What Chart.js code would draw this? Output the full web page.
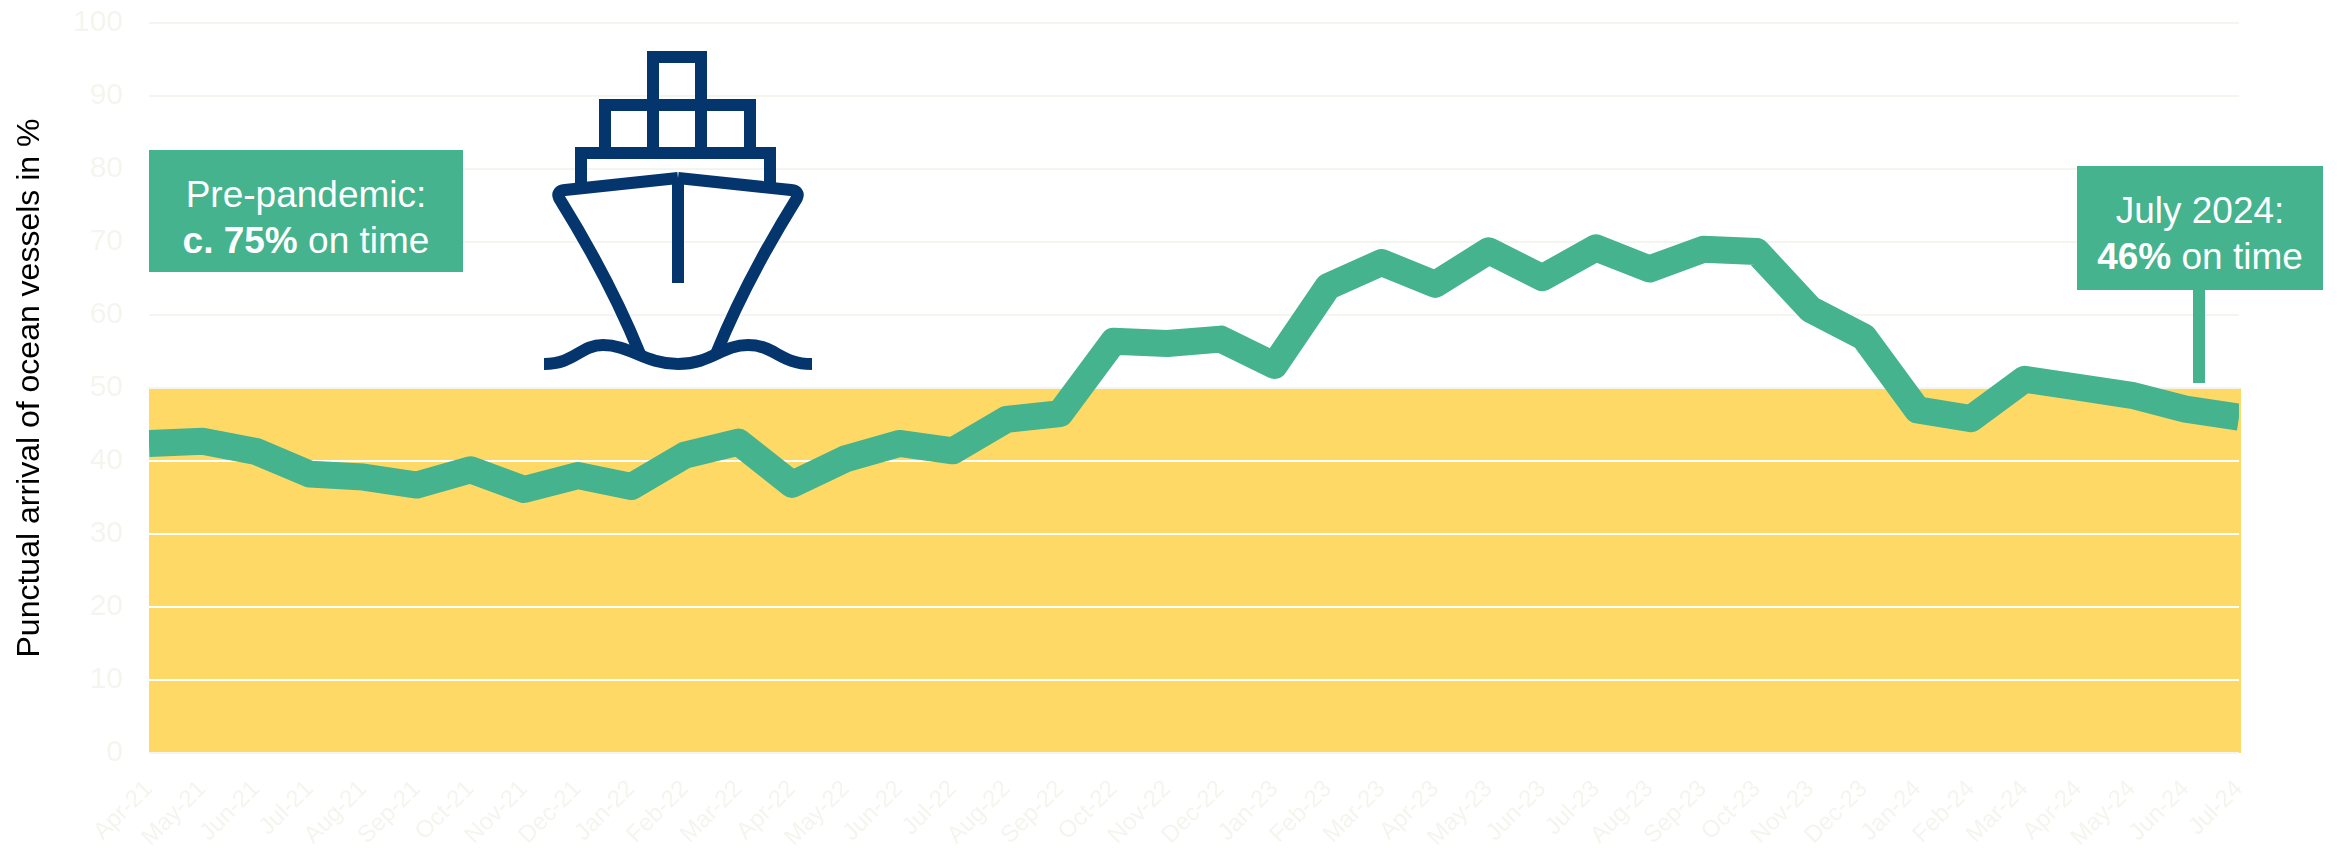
<!DOCTYPE html>
<html>
<head>
<meta charset="utf-8">
<title>Punctual arrival of ocean vessels</title>
<script src="https://cdn.jsdelivr.net/npm/chart.js@4"></script>
<style>
    html, body { margin: 0; padding: 0; background: #fff; }
    #wrap { position: relative; width: 2341px; height: 848px; overflow: hidden; font-family: "Liberation Sans", Arial, sans-serif; }
    canvas { position: absolute; left: 0; top: 0; }
    .callout { position: absolute; background: #44B38E; color: #fff; font-size: 37px; line-height: 46px; text-align: center; box-sizing: border-box; white-space: nowrap; }
    #box-pre { left: 149px; top: 150px; width: 314px; height: 122px; padding-top: 22px; }
    #box-now { left: 2077px; top: 166px; width: 246px; height: 124px; padding-top: 22px; }
    #stem { position: absolute; left: 2193px; top: 290px; width: 12px; height: 93px; background: #44B38E; }
    #ship { position: absolute; left: 0; top: 0; }
</style>
</head>
<body>
<div id="wrap">
    <canvas id="chart" width="2341" height="848"></canvas>
    <svg id="ship" width="2341" height="848" fill="none" stroke="#04356C" stroke-width="12" stroke-linejoin="round">
        <path stroke-linejoin="miter" d="M653 153V57H701V153M605 153V105H750V153M581 187V153H770V187"/>
        <path d="M678 178L565 190Q556 191 559 198Q610 280 640 354M678 178L791 190Q800 191 797 198Q746 280 716 354"/>
        <path d="M678 178V283"/>
        <path d="M544 364C575 364 580 345 603 345C630 345 645 364 678 364C711 364 722 345 748 345C775 345 780 364 812 364"/>
    </svg>
    <div class="callout" id="box-pre">Pre-pandemic:<br><b>c. 75%</b> on time</div>
    <div class="callout" id="box-now">July 2024:<br><b>46%</b> on time</div>
    <div id="stem"></div>
</div>
<script>
const months = ["Apr-21", "May-21", "Jun-21", "Jul-21", "Aug-21", "Sep-21", "Oct-21", "Nov-21", "Dec-21", "Jan-22",
    "Feb-22", "Mar-22", "Apr-22", "May-22", "Jun-22", "Jul-22", "Aug-22", "Sep-22", "Oct-22", "Nov-22",
    "Dec-22", "Jan-23", "Feb-23", "Mar-23", "Apr-23", "May-23", "Jun-23", "Jul-23", "Aug-23", "Sep-23",
    "Oct-23", "Nov-23", "Dec-23", "Jan-24", "Feb-24", "Mar-24", "Apr-24", "May-24", "Jun-24", "Jul-24"];
const punctual = [42.4, 42.7, 41.3, 38.2, 37.8, 36.7, 38.8, 36.1, 38.0, 36.5,
    40.8, 42.6, 36.8, 40.3, 42.4, 41.4, 45.7, 46.5, 56.4, 56.1,
    56.7, 53.1, 63.9, 67.2, 64.2, 68.8, 65.1, 69.2, 66.3, 69.0,
    68.7, 60.8, 57.0, 47.0, 45.8, 51.2, 50.1, 49.0, 47.1, 46.0];
const bandTop = 50;
const paleColor = "#F5F5EF";

// yellow zone below 50 %, has to sit under the grid lines
const bandPlugin = {
    id: "band",
    beforeDraw(chart) {
        const { ctx, chartArea, scales } = chart;
        const top = scales.y.getPixelForValue(bandTop) + 0.5;
        const bottom = scales.y.getPixelForValue(0);
        ctx.save();
        ctx.fillStyle = "#FFD966";
        ctx.fillRect(chartArea.left, top, chartArea.right - chartArea.left + 2, bottom - top);
        ctx.restore();
    }
};

new Chart(document.getElementById("chart"), {
    type: "line",
    data: {
        labels: months,
        datasets: [{
            data: punctual,
            borderColor: "#44B38E",
            borderWidth: 27,
            borderJoinStyle: "round",
            borderCapStyle: "butt",
            pointRadius: 0,
            tension: 0,
            clip: 0
        }]
    },
    plugins: [bandPlugin],
    options: {
        responsive: false,
        animation: false,
        layout: { padding: { left: 0, right: 102, top: 23, bottom: 0 } },
        plugins: { legend: { display: false }, tooltip: { enabled: false } },
        scales: {
            x: {
                offset: false,
                grid: { display: false },
                border: { display: false },
                afterFit(scale) { scale.height = 95; },
                ticks: {
                    autoSkip: false,
                    minRotation: 45,
                    maxRotation: 45,
                    padding: 14,
                    color: paleColor,
                    font: { family: "'Liberation Sans'", size: 24 }
                }
            },
            y: {
                min: 0,
                max: 100,
                afterFit(scale) {
                    scale.width = 149;
                    scale.paddingTop = 0;
                    scale.paddingBottom = 0;
                },
                grid: {
                    drawTicks: false,
                    lineWidth: 2,
                    color: (c) => (c.tick.value > 0 && c.tick.value < bandTop ? "#FFFFFF" : paleColor)
                },
                border: { display: false },
                title: {
                    display: true,
                    text: "Punctual arrival of ocean vessels in %",
                    color: "#000000",
                    padding: { top: 11, bottom: 0 },
                    font: { family: "'Liberation Sans'", size: 32 }
                },
                ticks: {
                    stepSize: 10,
                    padding: 26,
                    color: paleColor,
                    font: { family: "'Liberation Sans'", size: 30 }
                }
            }
        }
    }
});
</script>
</body>
</html>
